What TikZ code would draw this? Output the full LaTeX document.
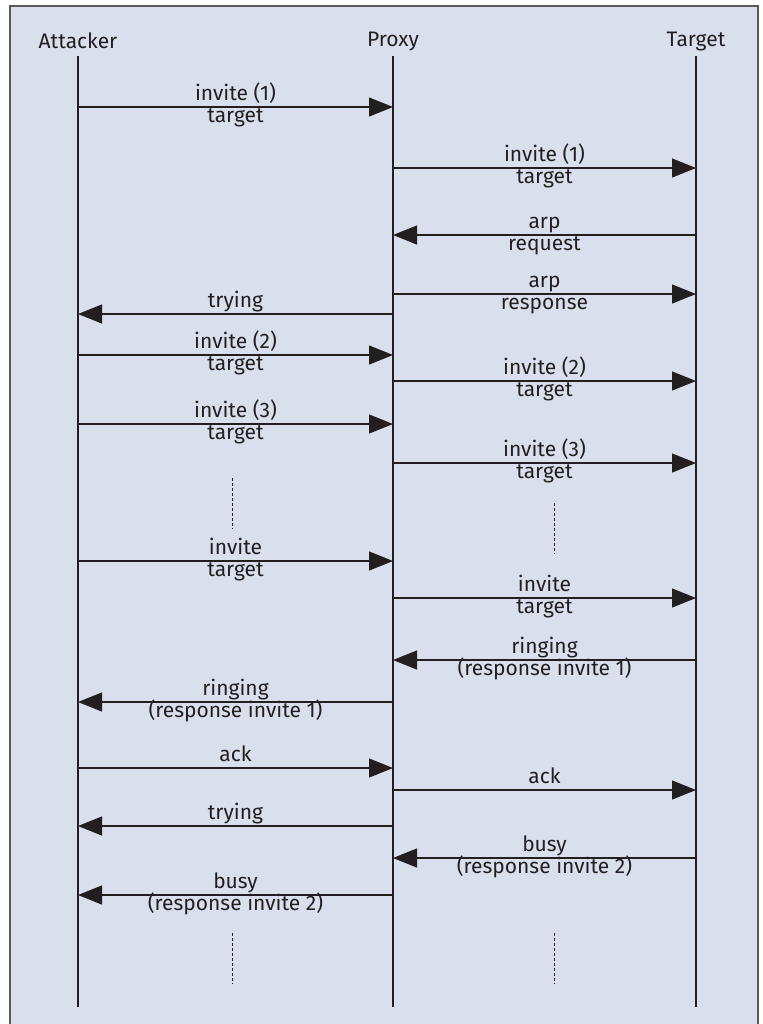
\documentclass[tikz,border=0pt]{standalone}
\usepackage{fontspec}
\setmainfont{Fira Sans}
\usetikzlibrary{arrows.meta}

\definecolor{panel}{RGB}{217,223,236}
\definecolor{ink}{RGB}{35,31,32}

\tikzset{
    msg/.style={draw=ink, line width=0.6pt, -{Triangle[length=12pt,width=9.5pt]}},
    life/.style={draw=ink, line width=0.6pt},
    gap/.style={draw=ink, line width=0.5pt, dash pattern=on 1.5pt off 1pt},
    lbl/.style={anchor=base, inner sep=0pt, font=\fontsize{10.5}{12}\selectfont, text=ink},
    head/.style={inner sep=0pt, font=\fontsize{10.5}{12}\selectfont, text=ink}
}

\begin{document}
\begin{tikzpicture}[x=0.5pt,y=-0.5pt]
    \useasboundingbox (0,0) rectangle (762,1024);

    % Panel
    \draw[fill=panel, draw=black!65, line width=1pt] (10,6) rectangle (758,1030);

    % Heads of the lifelines
    \node[head] (att) at (78,41) {Attacker};
    \node[head] (prx) at (393,41) {Proxy};
    \node[head] (tgt) at (696,41) {Target};

    % Lifelines
    \foreach \who in {att, prx, tgt} {
        \coordinate (\who-top) at (\who |- 0,56);
        \coordinate (\who-end) at (\who |- 0,1007);
        \draw[life] (\who-top) -- (\who-end);
    }

    % Messages: y / from / to / upper line / lower line
    \foreach \y/\s/\t/\up/\dn in {
        107/att/prx/invite (1)/target,
        168/prx/tgt/invite (1)/target,
        235/tgt/prx/arp/request,
        294/prx/tgt/arp/response,
        314/prx/att/trying/,
        355/att/prx/invite (2)/target,
        381/prx/tgt/invite (2)/target,
        424/att/prx/invite (3)/target,
        463/prx/tgt/invite (3)/target,
        561/att/prx/invite/target,
        598/prx/tgt/invite/target,
        660/tgt/prx/ringing/(response invite 1),
        702/prx/att/ringing/(response invite 1),
        768/att/prx/ack/,
        790/prx/tgt/ack/,
        826/prx/att/trying/,
        858/tgt/prx/busy/(response invite 2),
        895/prx/att/busy/(response invite 2)} {
        \coordinate (m-a) at (\s |- 0,\y);
        \coordinate (m-b) at (\t |- 0,\y);
        \draw[msg] (m-a) -- (m-b);
        \path (m-a) -- (m-b) coordinate[midway] (m-c);
        \node[lbl] at ([yshift=3.5pt]m-c) {\up};
        \node[lbl] at ([yshift=-7.6pt]m-c) {\dn};
    }

    % More of the same
    \draw[gap] (232,478) -- (232,529);
    \draw[gap] (554,503) -- (554,554);
    \draw[gap] (232,933) -- (232,984);
    \draw[gap] (554,933) -- (554,984);
\end{tikzpicture}
\end{document}
